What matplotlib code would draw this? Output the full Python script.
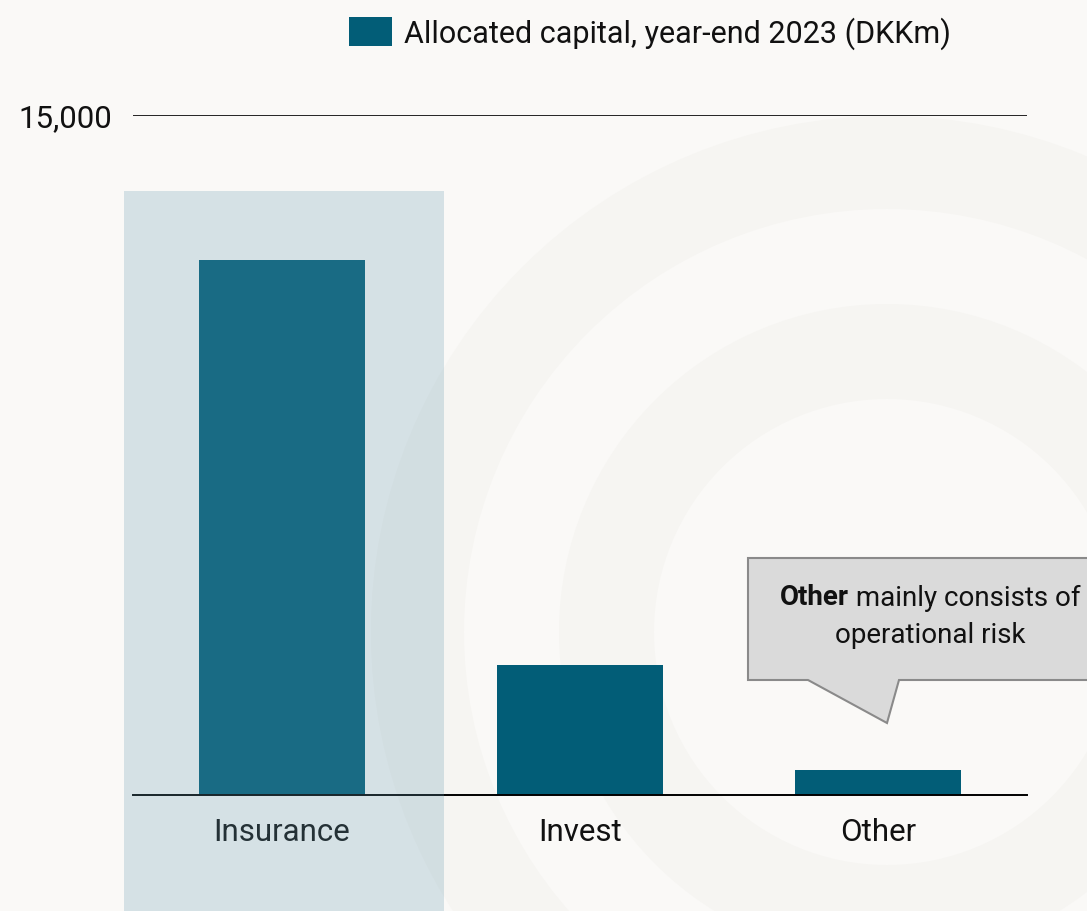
import matplotlib
matplotlib.use("Agg")
import matplotlib.pyplot as plt
from matplotlib.patches import Circle, Polygon, Rectangle, Patch
from matplotlib.transforms import blended_transform_factory

plt.rcParams['font.family'] = ['Roboto', 'DejaVu Sans']

# data (DKKm)
categories = ["Insurance", "Invest", "Other"]
allocated = [11800, 2875, 545]
legend_label = "Allocated capital, year-end 2023 (DKKm)"
y_max = 15000
note_bold = "Other"
note_rest = " mainly consists of"
note_line2 = "operational risk"

W, H = 1087, 912
bg = "#faf9f7"
ring = "#f6f5f2"
bar_color = "#025d77"

fig = plt.figure(figsize=(W / 100, H / 100), dpi=100)
fig.patch.set_facecolor(bg)

def fx(x):
    return x / W

def fy(y):
    return 1 - y / H

# faint concentric rings in the background
bg_ax = fig.add_axes([0, 0, 1, 1], zorder=0)
bg_ax.set_xlim(0, W)
bg_ax.set_ylim(H, 0)
bg_ax.axis("off")
for r, c in [(516, ring), (423, bg), (328, ring), (233, bg)]:
    bg_ax.add_patch(Circle((887, 633), r, color=c, lw=0))

ax = fig.add_axes([fx(133), fy(796), fx(1027) - fx(133), fy(116) - fy(796)], zorder=1)
ax.patch.set_alpha(0)

x = range(len(categories))
ax.bar(x, allocated, width=0.554, color=bar_color, zorder=3)
ax.set_xlim(-0.5, 2.5)
ax.set_ylim(0, y_max)

for s in ["top", "left", "right"]:
    ax.spines[s].set_visible(False)
ax.spines["bottom"].set_color("black")
ax.spines["bottom"].set_linewidth(1.4)
ax.spines["bottom"].set_zorder(4)

ax.set_yticks([y_max])
ax.set_yticklabels([f"{y_max:,}"])
ax.yaxis.grid(True, color="black", linewidth=1.2)
ax.set_axisbelow(True)
ax.tick_params(axis="y", length=0, pad=15, labelsize=22.5, labelcolor="#111111")
ax.set_xticks(list(x))
ax.set_xticklabels(categories)
ax.tick_params(axis="x", length=0, pad=16, labelsize=22.5, labelcolor="#111111")

# highlight panel over the first category
tr = blended_transform_factory(ax.transData, ax.transAxes)
ax.add_patch(Rectangle((-0.53, -116 / 680), 1.074, (796 - 192) / 680 + 116 / 680,
                       transform=tr, facecolor="#6397ad", alpha=0.245, lw=0,
                       clip_on=False, zorder=10))

# legend
fig.legend(handles=[Patch(facecolor=bar_color, edgecolor="none")], labels=[legend_label],
           loc="center", bbox_to_anchor=(fx(650), fy(34)), frameon=False,
           fontsize=22, handlelength=1.4, handleheight=1.1, handletextpad=0.4,
           labelcolor="#111111")

# callout about "Other"
callout = [(748, 559), (1095, 559), (1095, 681), (899, 681), (887, 724), (808, 681), (748, 681)]
fig.patches.append(Polygon([(fx(a), fy(b)) for a, b in callout], closed=True,
                           transform=fig.transFigure, facecolor="#dadada",
                           edgecolor="#8a8a8a", lw=1.5, zorder=5))

fig.canvas.draw()
rend = fig.canvas.get_renderer()
t1 = fig.text(0, fy(598), note_bold, fontsize=20, fontweight="bold", va="center",
              ha="left", color="#111111", zorder=6)
t2 = fig.text(0, fy(598), note_rest, fontsize=20, va="center", ha="left",
              color="#111111", zorder=6)
w1 = t1.get_window_extent(rend).width
w2 = t2.get_window_extent(rend).width
start = 930 - (w1 + w2) / 2
t1.set_x(fx(start))
t2.set_x(fx(start + w1))
fig.text(fx(930), fy(636), note_line2, fontsize=20, va="center", ha="center",
         color="#111111", zorder=6)

fig.savefig("out.png", dpi=100, facecolor=bg)
